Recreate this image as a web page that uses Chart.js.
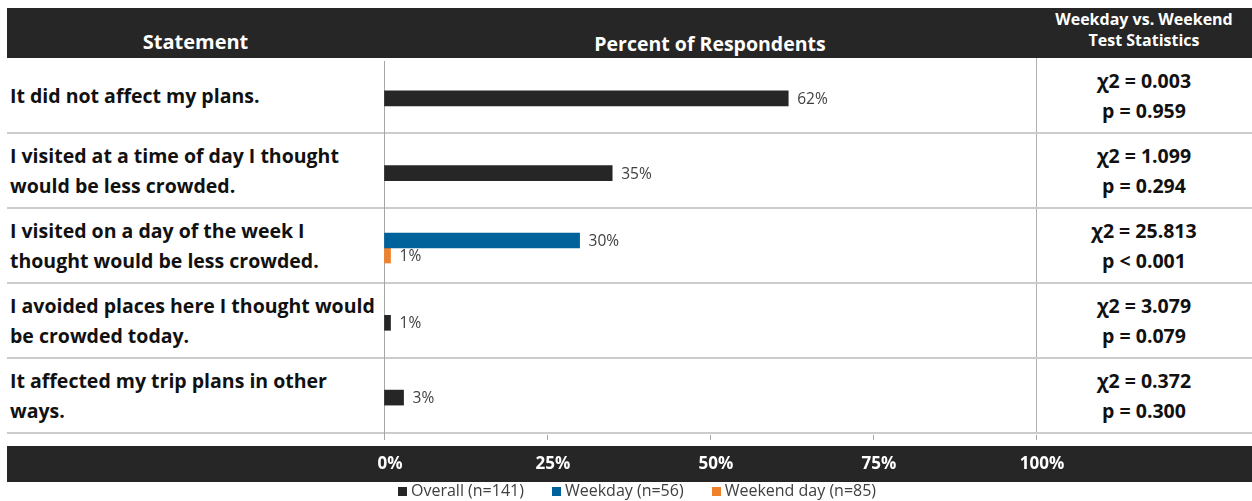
<!DOCTYPE html>
<html>
<head>
<meta charset="utf-8">
<script src="https://cdn.jsdelivr.net/npm/chart.js@4.4.1/dist/chart.umd.min.js"></script>
<style>
body { margin: 0; background: #fff; font-family: "Open Sans", sans-serif; }
#wrap { position: relative; width: 1252px; height: 501px; overflow: hidden; }
.band { position: absolute; left: 7px; width: 1245px; background: #262626; }
.hd { position: absolute; top: 8px; height: 50px; color: #fff; font-weight: bold; text-align: center; }
.rule { position: absolute; left: 7px; width: 1245px; height: 2px; background: #cccccc; }
.stmt { position: absolute; left: 10px; width: 374px; height: 75px; display: flex; align-items: center;
        font-weight: bold; font-size: 19.5px; line-height: 30px; color: #111; white-space: nowrap; }
.stat { position: absolute; left: 1036px; width: 216px; height: 75px; display: flex; flex-direction: column;
        justify-content: center; text-align: center; font-weight: bold; font-size: 19.5px; line-height: 30px; color: #111; }
#chart { position: absolute; left: 0; top: 0; }
#legend { position: absolute; top: 481px; left: 398px; display: flex; gap: 28px; font-size: 16px; line-height: 18px; color: #404040; }
#legend span.sw { display: inline-block; width: 9px; height: 9px; margin-right: 4px; }
</style>
</head>
<body>
<div id="wrap">
    <div class="band" style="top:8px;height:50px"></div>
    <div class="band" style="top:446px;height:36px"></div>
    <div class="hd" style="left:7px;width:377px;font-size:20px;display:flex;align-items:flex-end;justify-content:center"><div style="padding-bottom:3px">Statement</div></div>
    <div class="hd" style="left:384px;width:652px;font-size:19.5px;display:flex;align-items:flex-end;justify-content:center"><div style="padding-bottom:1px">Percent of Respondents</div></div>
    <div class="hd" style="left:1036px;width:216px;font-size:16px;line-height:21px;padding-top:1px">Weekday vs. Weekend<br>Test Statistics</div>
    <div style="position:absolute;left:1036px;top:58px;width:1px;height:375px;background:#b0b0b0"></div>
    <div id="rows"></div>
    <canvas id="chart" width="1252" height="501"></canvas>
    <div id="legend"></div>
</div>
<script>
const statements = [
    ['It did not affect my plans.'],
    ['I visited at a time of day I thought', 'would be less crowded.'],
    ['I visited on a day of the week I', 'thought would be less crowded.'],
    ['I avoided places here I thought would', 'be crowded today.'],
    ['It affected my trip plans in other', 'ways.']
];
const overall = [62, 35, null, 1, 3];
const weekday = [null, null, 30, null, null];
const weekend = [null, null, 1, null, null];
const chiSquare = ['0.003', '1.099', '25.813', '3.079', '0.372'];
const pValues = ['= 0.959', '= 0.294', '< 0.001', '= 0.079', '= 0.300'];
const seriesNames = ['Overall (n=141)', 'Weekday (n=56)', 'Weekend day (n=85)'];
const seriesColors = ['#262626', '#00629b', '#f0812c'];

// table rows: statement text, stats, separators
const rowsEl = document.getElementById('rows');
rowsEl.innerHTML = statements.map((lines, i) => {
    const top = 58 + i * 75;
    return `
        <div class="stmt" style="top:${top}px"><div>${lines.join('<br>')}</div></div>
        <div class="stat" style="top:${top}px"><div>&chi;2 = ${chiSquare[i]}</div><div>p ${pValues[i]}</div></div>
        <div class="rule" style="top:${top + 74}px"></div>
    `;
}).join('');

document.getElementById('legend').innerHTML = seriesNames.map((name, i) =>
    `<div><span class="sw" style="background:${seriesColors[i]}"></span>${name}</div>`
).join('');

// value labels at the end of each bar
const barValueLabels = {
    id: 'barValueLabels',
    afterDatasetsDraw(chart) {
        const ctx = chart.ctx;
        ctx.save();
        ctx.font = '15.5px "Open Sans"';
        ctx.fillStyle = '#404040';
        ctx.textBaseline = 'middle';
        chart.data.datasets.forEach((ds, i) => {
            chart.getDatasetMeta(i).data.forEach((bar, j) => {
                if (ds.data[j] == null) return;
                ctx.fillText(ds.data[j] + '%', bar.x + 9, bar.y + 1);
            });
        });
        ctx.restore();
    }
};

const barCtx = document.getElementById('chart').getContext('2d');

new Chart(barCtx, {
    type: 'bar',
    data: {
        labels: statements.map(l => l.join(' ')),
        datasets: [
            { label: seriesNames[0], data: overall, backgroundColor: seriesColors[0] },
            { label: seriesNames[1], data: weekday, backgroundColor: seriesColors[1] },
            { label: seriesNames[2], data: weekend, backgroundColor: seriesColors[2] }
        ]
    },
    options: {
        indexAxis: 'y',
        responsive: false,
        animation: false,
        datasets: {
            bar: { skipNull: true, barThickness: 15 }
        },
        layout: {
            padding: { left: 384, right: 216, top: 61, bottom: 26 }
        },
        plugins: {
            legend: { display: false },
            tooltip: { enabled: false }
        },
        scales: {
            y: { display: false },
            x: {
                min: 0,
                max: 100,
                border: { display: false },
                grid: {
                    color: c => (c.tick && c.tick.value === 0 ? '#a6a6a6' : 'rgba(0,0,0,0)'),
                    tickColor: '#a6a6a6',
                    tickLength: 5
                },
                ticks: {
                    stepSize: 25,
                    padding: 14,
                    labelOffset: 6,
                    color: '#ffffff',
                    font: { family: 'Open Sans', size: 17, weight: 'bold' },
                    callback: v => v + '%'
                },
                afterFit: s => { s.paddingLeft = 0; s.paddingRight = 0; s.height = 40; }
            }
        }
    },
    plugins: [barValueLabels]
});
</script>
</body>
</html>
